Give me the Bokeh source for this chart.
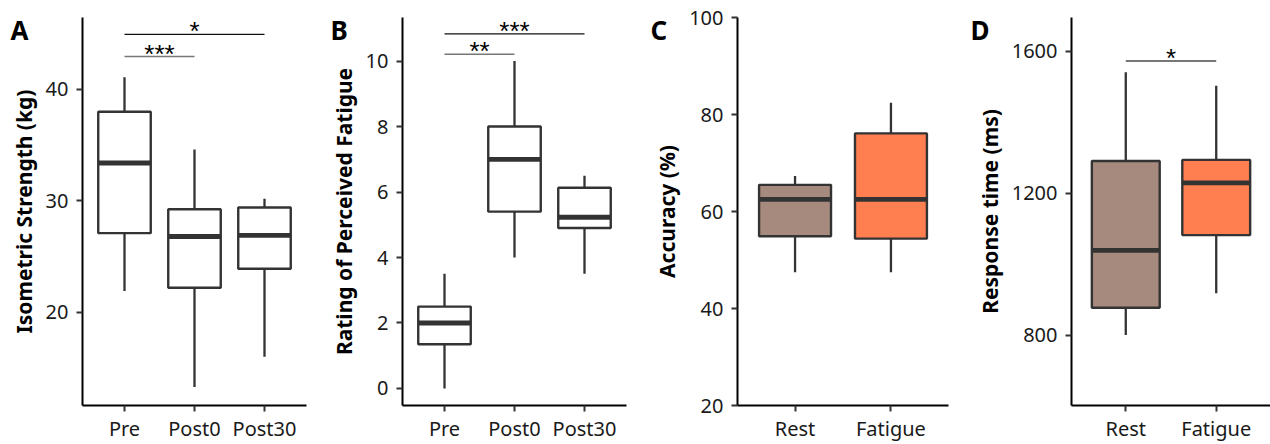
from bokeh.plotting import figure
from bokeh.layouts import row
from bokeh.models import Range1d, FixedTicker, Label, ColumnDataSource
from bokeh.embed import file_html
from bokeh.resources import INLINE

# ---------------- data ----------------
# Panel A: Isometric strength (kg)
a_groups = ["Pre", "Post0", "Post30"]
a_lower = [21.9, 13.3, 16.0]
a_q1 = [27.1, 22.2, 23.9]
a_median = [33.4, 26.8, 26.9]
a_q3 = [38.0, 29.25, 29.4]
a_upper = [41.1, 34.6, 30.2]
a_sig_from = ["Pre", "Pre"]
a_sig_to = ["Post0", "Post30"]
a_sig_y = [42.95, 44.94]
a_sig_label = ["***", "*"]

# Panel B: Rating of perceived fatigue
b_groups = ["Pre", "Post0", "Post30"]
b_lower = [0.0, 4.0, 3.5]
b_q1 = [1.35, 5.4, 4.9]
b_median = [2.0, 7.0, 5.23]
b_q3 = [2.5, 8.0, 6.13]
b_upper = [3.5, 10.0, 6.5]
b_sig_from = ["Pre", "Pre"]
b_sig_to = ["Post0", "Post30"]
b_sig_y = [10.21, 10.83]
b_sig_label = ["**", "***"]

# Panel C: Accuracy (%)
c_groups = ["Rest", "Fatigue"]
c_lower = [47.5, 47.5]
c_q1 = [54.9, 54.4]
c_median = [62.5, 62.5]
c_q3 = [65.5, 76.1]
c_upper = [67.3, 82.4]

# Panel D: Response time (ms)
d_groups = ["Rest", "Fatigue"]
d_lower = [800, 918]
d_q1 = [877, 1082]
d_median = [1039, 1229]
d_q3 = [1291, 1294]
d_upper = [1541, 1503]
d_sig_from = ["Rest"]
d_sig_to = ["Fatigue"]
d_sig_y = [1573]
d_sig_label = ["*"]

cond_colors = ["#A68A7E", "#FF7F50"]

FONT = "Noto Sans"
TXT = "#1a1a1a"
BOXLINE = "#333333"
SHIFT = 19  # height taken by the panel letter above the frame, minus the 18px top border


def make_panel(letter, groups, lower, q1, med, q3, upper, ylabel, yr, yticks,
               width, left, right, fills=None, sig=None, sig_colors=None,
               sig_widths=None):
    n = len(groups)
    xs = list(range(1, n + 1))
    p = figure(width=width, height=444 + SHIFT, output_backend="svg", toolbar_location=None,
               x_range=Range1d(0.4, n + 0.6), y_range=Range1d(*yr),
               min_border_left=left, min_border_right=right,
               min_border_top=18, min_border_bottom=37)
    p.outline_line_color = None
    p.xgrid.visible = False
    p.ygrid.visible = False
    p.background_fill_color = "white"
    p.border_fill_color = "white"

    for ax in (p.xaxis[0], p.yaxis[0]):
        ax.axis_line_color = "black"
        ax.axis_line_width = 2
        ax.major_tick_line_color = BOXLINE
        ax.major_tick_line_width = 2
        ax.major_tick_out = 6
        ax.major_tick_in = 0
        ax.minor_tick_line_color = None
        ax.major_label_text_font = FONT
        ax.major_label_text_font_size = "20px"
        ax.major_label_text_color = TXT
    p.xaxis.major_label_standoff = 3
    p.yaxis.major_label_standoff = 8
    p.xaxis.ticker = FixedTicker(ticks=xs)
    p.xaxis.major_label_overrides = {i: g for i, g in zip(xs, groups)}
    p.yaxis.ticker = FixedTicker(ticks=yticks)
    p.yaxis.axis_label = ylabel
    p.yaxis.axis_label_text_font = FONT
    p.yaxis.axis_label_text_font_style = "bold"
    p.yaxis.axis_label_text_font_size = "21px"
    p.yaxis.axis_label_text_color = "black"
    p.yaxis.axis_label_standoff = 5

    if fills is None:
        fills = ["white"] * n
    src = ColumnDataSource(dict(x=xs, lower=lower, q1=q1, med=med, q3=q3, upper=upper,
                                fill=fills,
                                xl=[x - 0.375 for x in xs], xr=[x + 0.375 for x in xs]))
    p.segment(x0="x", x1="x", y0="q3", y1="upper", source=src, line_color=BOXLINE, line_width=2.3)
    p.segment(x0="x", x1="x", y0="q1", y1="lower", source=src, line_color=BOXLINE, line_width=2.3)
    p.vbar(x="x", width=0.75, top="q3", bottom="q1", source=src, fill_color="fill",
           line_color=BOXLINE, line_width=2.4)
    p.segment(x0="xl", x1="xr", y0="med", y1="med", source=src, line_color=BOXLINE, line_width=4.8)

    if sig is not None:
        s_from, s_to, s_y, s_lab = sig
        x0 = [groups.index(g) + 1 for g in s_from]
        x1 = [groups.index(g) + 1 for g in s_to]
        xm = [(a + b) / 2 for a, b in zip(x0, x1)]
        ssrc = ColumnDataSource(dict(x0=x0, x1=x1, y=s_y, xm=xm, lab=s_lab,
                                     col=sig_colors, lw=sig_widths))
        p.segment(x0="x0", x1="x1", y0="y", y1="y", source=ssrc, line_color="col",
                  line_width="lw")
        p.text(x="xm", y="y", text="lab", source=ssrc, text_align="center",
               text_baseline="alphabetic", text_font_size="26px", text_color="black",
               y_offset=-3)

    p.add_layout(Label(x=10 - left, y=-12, x_units="screen", y_units="screen",
                       text=letter, text_font=FONT, text_font_style="bold",
                       text_font_size="26px", text_color="black",
                       text_baseline="alphabetic"), "above")
    return p


pa = make_panel("A", a_groups, a_lower, a_q1, a_median, a_q3, a_upper,
                "Isometric Strength (kg)", (11.63, 46.46), [20, 30, 40],
                320, 82, 14, sig=(a_sig_from, a_sig_to, a_sig_y, a_sig_label),
                sig_colors=["#777777", "#111111"], sig_widths=[1.5, 1.2])
pb = make_panel("B", b_groups, b_lower, b_q1, b_median, b_q3, b_upper,
                "Rating of Perceived Fatigue", (-0.52, 11.33), [0, 2, 4, 6, 8, 10],
                320, 82, 14, sig=(b_sig_from, b_sig_to, b_sig_y, b_sig_label),
                sig_colors=["#777777", "#111111"], sig_widths=[1.5, 1.2])
pc = make_panel("C", c_groups, c_lower, c_q1, c_median, c_q3, c_upper,
                "Accuracy (%)", (20, 100), [20, 40, 60, 80, 100],
                320, 97, 12, fills=cond_colors)
pd_ = make_panel("D", d_groups, d_lower, d_q1, d_median, d_q3, d_upper,
                 "Response time (ms)", (601.4, 1695.6), [800, 1200, 1600],
                 310, 111, 0, fills=cond_colors,
                 sig=(d_sig_from, d_sig_to, d_sig_y, d_sig_label),
                 sig_colors=["#777777"], sig_widths=[2])

layout = row(pa, pb, pc, pd_, spacing=0, margin=(-SHIFT, 0, 0, 0))
open("out.html", "w").write(file_html(layout, INLINE))
